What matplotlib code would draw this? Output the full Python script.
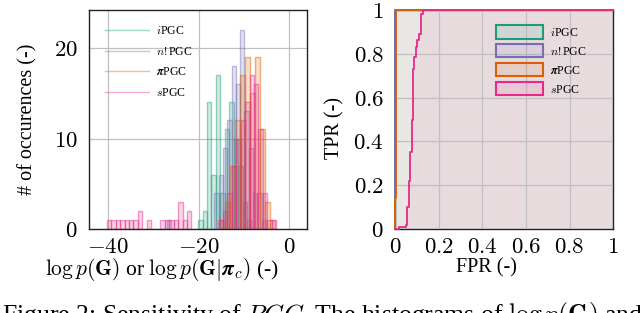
import numpy as np
import matplotlib
matplotlib.use("Agg")
import matplotlib.pyplot as plt
from matplotlib.colors import to_rgba
from matplotlib.lines import Line2D
from matplotlib.patches import Patch

plt.rcParams['font.family'] = ['Liberation Serif', 'DejaVu Serif']
plt.rcParams['mathtext.fontset'] = 'cm'

# series names and colours (Dark2)
labels = ['$i$PGC', '$n!$PGC', r'$\boldsymbol{\pi}$PGC', '$s$PGC']
colors = ['#1b9e77', '#7570b3', '#d95f02', '#e7298a']

# histogram data: first bin edge, bin width, counts
ipgc_start, ipgc_width = -20.12, 0.98
ipgc_counts = [1, 2, 14, 6, 17, 4, 11, 14, 10, 7, 3, 1]

npgc_start, npgc_width = -27.0, 0.95
npgc_counts = [1, 0, 0, 0, 0, 0, 0, 0, 0, 0, 0,
               4, 6, 9, 12, 18, 16, 22, 13, 9, 4, 4, 1]

pipgc_start, pipgc_width = -15.3, 1.1
pipgc_counts = [1, 3, 7, 12, 17, 19, 15, 19, 11, 3, 1]

spgc_start, spgc_width = -40.3, 0.985
spgc_counts = [1, 1, 1, 1, 1, 1, 1, 2, 0, 1, 0, 0, 1, 1, 1, 1, 3, 1, 2, 0,
               0, 0, 0, 0, 0, 1, 2, 4, 7, 10, 12, 14, 17, 16, 11, 4, 1, 1]

# ROC curves (step corners, post)
ipgc_fpr = [0, 0, 1]
ipgc_tpr = [0, 1, 1]
npgc_fpr = [0, 0, 1]
npgc_tpr = [0, 1, 1]
pipgc_fpr = [0, 0, 0.006, 1]
pipgc_tpr = [0, 0.14, 1, 1]
spgc_fpr = [0, 0.02, 0.05, 0.057, 0.064, 0.071, 0.076, 0.081, 0.088, 0.095,
            0.103, 0.11, 0.118, 0.13, 1]
spgc_tpr = [0, 0.01, 0.02, 0.1, 0.22, 0.35, 0.5, 0.73, 0.785, 0.83,
            0.865, 0.89, 0.98, 1, 1]

hist_xticks = [-40, -20, 0]
hist_xticklabels = ['$-40$', '$-20$', '$0$']
hist_yticks = [0, 10, 20]
hist_yticklabels = ['$0$', '$10$', '$20$']
roc_ticks = [0, 0.2, 0.4, 0.6, 0.8, 1]
roc_ticklabels = ['$0$', '$0.2$', '$0.4$', '$0.6$', '$0.8$', '$1$']

hists = [(ipgc_start, ipgc_width, ipgc_counts),
         (npgc_start, npgc_width, npgc_counts),
         (pipgc_start, pipgc_width, pipgc_counts),
         (spgc_start, spgc_width, spgc_counts)]
rocs = [(ipgc_fpr, ipgc_tpr), (npgc_fpr, npgc_tpr),
        (pipgc_fpr, pipgc_tpr), (spgc_fpr, spgc_tpr)]

fig = plt.figure(figsize=(6.4, 3.13), dpi=100)
ax1 = fig.add_axes([89 / 640, 1 - 229 / 313, 218 / 640, 219 / 313])
ax2 = fig.add_axes([395 / 640, 1 - 229 / 313, 218.3 / 640, 219 / 313])

grid_kw = dict(color='#c0c0c0', linewidth=0.9)

# histograms
for (start, width, counts), c in zip(hists, colors):
    counts = np.asarray(counts)
    left = start + width * np.arange(len(counts))
    m = counts > 0
    ax1.bar(left[m], counts[m], width=width, align='edge',
            facecolor=to_rgba(c, 0.2), edgecolor=to_rgba(c, 0.45),
            linewidth=1.0, zorder=2)

ax1.set_xlim(-44.2, 3.9)
ax1.set_ylim(0, 24.2)
ax1.set_xticks(hist_xticks)
ax1.set_xticklabels(hist_xticklabels)
ax1.set_yticks(hist_yticks)
ax1.set_yticklabels(hist_yticklabels)
ax1.grid(True, **grid_kw)
ax1.set_axisbelow(True)
ax1.set_xlabel(r'$\log p(\mathbf{G})$ or $\log p(\mathbf{G}|\boldsymbol{\pi}_c)$ (-)', fontsize=15.5)
ax1.set_ylabel('# of occurences (-)', fontsize=14.5)
ax1.xaxis.set_label_coords(0.335, -0.125)
ax1.yaxis.set_label_coords(-0.235, 0.5)

h1 = [Line2D([], [], color=to_rgba(c, 0.4), lw=1.0) for c in colors]
ax1.legend(h1, labels, loc='upper left', bbox_to_anchor=(0.075, 0.93),
           frameon=False, fontsize=8.5, handlelength=3.7, handletextpad=0.6,
           labelspacing=0.72, borderaxespad=0, borderpad=0)

# ROC curves
for (fpr, tpr), c in zip(rocs, colors):
    ax2.fill_between(fpr, tpr, step='post', color=to_rgba(c, 0.06),
                     linewidth=0, zorder=1)
for (fpr, tpr), c in zip(rocs, colors):
    ax2.step(fpr, tpr, where='post', color=c, lw=1.3, zorder=3, clip_on=False)

ax2.set_xlim(0, 1)
ax2.set_ylim(0, 1)
ax2.set_xticks(roc_ticks)
ax2.set_xticklabels(roc_ticklabels)
ax2.set_yticks(roc_ticks)
ax2.set_yticklabels(roc_ticklabels)
ax2.grid(True, zorder=2, **grid_kw)
ax2.set_axisbelow(False)
for gl in ax2.get_xgridlines() + ax2.get_ygridlines():
    gl.set_zorder(2)
ax2.set_xlabel('FPR (-)', fontsize=14.5)
ax2.set_ylabel('TPR (-)', fontsize=14.5)
ax2.xaxis.set_label_coords(0.42, -0.135)
ax2.yaxis.set_label_coords(-0.23, 0.46)

h2 = [Patch(facecolor=to_rgba(c, 0.1), edgecolor=c, lw=1.5) for c in colors]
ax2.legend(h2, labels, loc='upper left', bbox_to_anchor=(0.461, 0.93),
           frameon=False, fontsize=8.5, handlelength=4.0, handleheight=1.35,
           handletextpad=0.6, labelspacing=0.45, borderaxespad=0, borderpad=0)

for ax in (ax1, ax2):
    ax.tick_params(length=0, labelsize=16.5)
    ax.tick_params(axis='x', pad=6)
    ax.tick_params(axis='y', pad=8)
    for s in ax.spines.values():
        s.set_linewidth(1.0)
        s.set_color('#222222')

fig.text(0.003, -0.03,
         r'Figure 2: Sensitivity of $\it{PGC}$. The histograms of $\log p(\mathbf{G})$ and',
         family='Liberation Serif', fontsize=18.5, ha='left', va='baseline')

fig.savefig('out.png', dpi=100)
